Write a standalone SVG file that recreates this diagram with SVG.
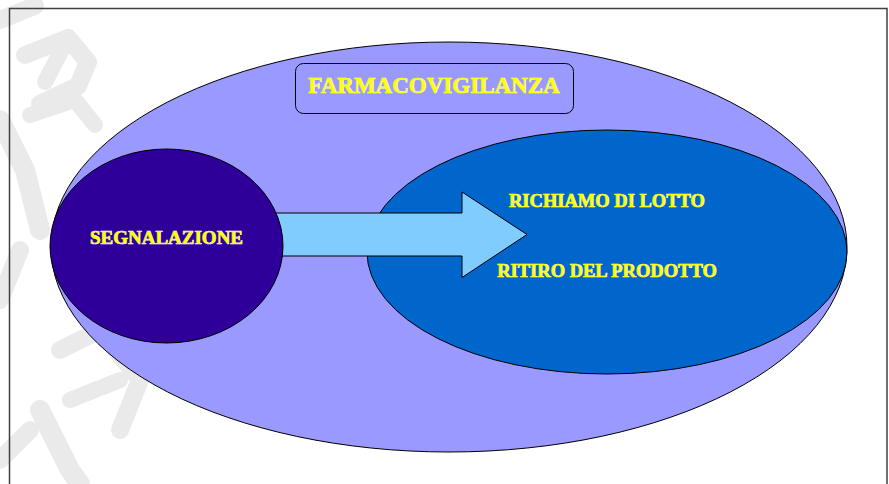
<svg xmlns="http://www.w3.org/2000/svg" width="889" height="484" viewBox="0 0 889 484">
  <defs>
    <style>
      .lbl { font-family: "Liberation Serif", "Times New Roman", serif; font-weight: bold; fill: #FFFF00; stroke: #FFFFE0; stroke-width: 0.7; paint-order: stroke; text-anchor: middle; }
      .wm { fill: none; stroke: #EAEAEA; stroke-linecap: round; stroke-linejoin: round; }
      .edge { stroke: #000000; stroke-width: 1; }
    </style>
  </defs>
  <rect x="0" y="0" width="889" height="484" fill="#FFFFFF"/>
  <g id="watermark">
    <path class="wm" stroke-width="18" d="M 0 20 L 35 6"/>
    <path class="wm" stroke-width="18" d="M 25 55 L 68 38 L 88 62 L 78 86 L 40 104"/>
    <path class="wm" stroke-width="16" d="M 68 38 L 45 82"/>
    <path class="wm" stroke-width="20" d="M 0 120 L 25 170 L 40 230"/>
    <path class="wm" stroke-width="16" d="M 30 115 L 75 100 L 95 125"/>
    <path class="wm" stroke-width="18" d="M 0 300 L 20 250"/>
    <path class="wm" stroke-width="18" d="M 60 350 L 100 330 L 140 380 L 120 430"/>
    <path class="wm" stroke-width="16" d="M 70 400 L 120 380"/>
    <path class="wm" stroke-width="20" d="M 40 410 L 70 470 L 80 484"/>
    <path class="wm" stroke-width="18" d="M 0 460 L 30 430"/>
  </g>
  <rect id="frame" x="9.5" y="8.5" width="877.5" height="480" fill="none" stroke="#404040" stroke-width="1.5"/>
  <g id="farmacovigilanza-area">
    <ellipse cx="449" cy="247" rx="398" ry="205" fill="#9999FF" class="edge"/>
  </g>
  <g id="richiamo">
    <ellipse cx="607" cy="252" rx="240" ry="122" fill="#0066CC" class="edge"/>
  </g>
  <g id="connectors">
    <path d="M 270 213 L 462 213 L 462 192 L 527 234.5 L 462 277.5 L 462 256 L 270 256 Z" fill="#80CCFF" class="edge"/>
  </g>
  <g id="segnalazione">
    <ellipse cx="166.5" cy="246" rx="116.5" ry="97" fill="#2E0099" class="edge"/>
    <text class="lbl" x="166.5" y="243.5" font-size="19">SEGNALAZIONE</text>
  </g>
  <g id="title">
    <rect x="295.5" y="63.5" width="278" height="50" rx="8" ry="8" fill="#9999FF" class="edge"/>
    <text class="lbl" x="434" y="92.5" font-size="23">FARMACOVIGILANZA</text>
  </g>
  <g id="richiamo-labels">
    <text class="lbl" x="607" y="206.5" font-size="18.5">RICHIAMO DI LOTTO</text>
    <text class="lbl" x="607" y="276.5" font-size="18.5">RITIRO DEL PRODOTTO</text>
  </g>
</svg>
